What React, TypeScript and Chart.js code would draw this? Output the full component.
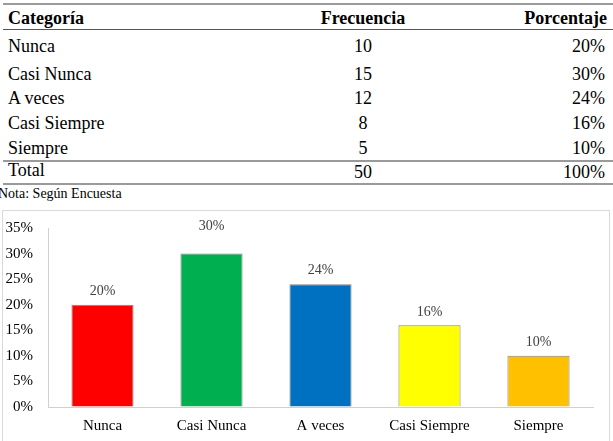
import React, { useEffect, useRef } from "react";
import { Chart, registerables } from "chart.js";

Chart.register(...registerables);

const categories = ["Nunca", "Casi Nunca", "A veces", "Casi Siempre", "Siempre"];
const frequencies = [10, 15, 12, 8, 5];
const percentages = [20, 30, 24, 16, 10];
const totalFrequency = 50;
const totalPercentage = 100;
const barColors = ["#FF0000", "#00B050", "#0070C0", "#FFFF00", "#FFC000"];
const yTicks = [0, 5, 10, 15, 20, 25, 30, 35];

const SERIF = "'Liberation Serif', 'Times New Roman', Times, serif";

// Percentage labels drawn above each bar; `lift` is the gap between bar top and text baseline
const valueLabels = {
  id: "valueLabels",
  afterDatasetsDraw(chart: any, _args: any, opts: any) {
    const { ctx } = chart;
    const meta = chart.getDatasetMeta(0);
    const lift: number[] = opts.lift || [];
    ctx.save();
    ctx.font = `14px ${SERIF}`;
    ctx.fillStyle = "#404040";
    ctx.textAlign = "center";
    ctx.textBaseline = "alphabetic";
    meta.data.forEach((bar: any, i: number) => {
      const v = chart.data.datasets[0].data[i];
      ctx.fillText(`${v}%`, bar.x, bar.y - (lift[i] ?? 9));
    });
    ctx.restore();
  },
};

// text tops for the five body rows of the table
const rowTops = [37, 65, 89, 114, 139];

export default function App() {
  const canvasRef = useRef<HTMLCanvasElement | null>(null);

  useEffect(() => {
    document.body.style.margin = "0";
    if (!canvasRef.current) return;
    const chart = new Chart(canvasRef.current, {
      type: "bar",
      data: {
        labels: categories,
        datasets: [
          {
            data: percentages,
            backgroundColor: barColors,
            borderColor: "rgba(50,50,50,0.6)",
            borderWidth: 1,
            barPercentage: 0.57,
            categoryPercentage: 1,
          },
        ],
      },
      options: {
        animation: false,
        responsive: false,
        maintainAspectRatio: false,
        layout: { padding: { left: 0, right: 20, top: 17, bottom: 0 } },
        plugins: {
          legend: { display: false },
          tooltip: { enabled: false },
          valueLabels: { lift: [10, 24, 10, 9, 10] },
        } as any,
        scales: {
          x: {
            grid: { display: false, drawTicks: false },
            border: { display: true, color: "#d0d0d0", width: 1 },
            ticks: {
              color: "#000000",
              font: { family: SERIF, size: 15 },
              padding: 10,
            },
            afterFit(scale: any) {
              scale.height = 34;
            },
          },
          y: {
            min: 0,
            max: 35,
            // invisible tick marks keep the labels clear of the axis line
            grid: {
              display: true,
              drawOnChartArea: false,
              drawTicks: true,
              tickLength: 14,
              tickColor: "rgba(0,0,0,0)",
            },
            border: { display: true, color: "#d0d0d0", width: 1 },
            afterBuildTicks(scale: any) {
              scale.ticks = yTicks.map((v) => ({ value: v }));
            },
            ticks: {
              color: "#000000",
              font: { family: SERIF, size: 15 },
              padding: 1,
              callback: (v: any) => `${v}%`,
            },
            afterFit(scale: any) {
              scale.width = 48;
            },
          },
        },
      },
      plugins: [valueLabels],
    });
    return () => chart.destroy();
  }, []);

  const cell: React.CSSProperties = {
    position: "absolute",
    fontFamily: SERIF,
    fontSize: 18,
    lineHeight: "18px",
    color: "#000",
    whiteSpace: "nowrap",
  };
  const line = (top: number, color: string, h: number): React.CSSProperties => ({
    position: "absolute",
    left: 3,
    right: 0,
    top,
    height: h,
    background: color,
  });

  return (
    <div style={{ position: "relative", width: 613, height: 441, background: "#fff", overflow: "hidden" }}>
      <div style={line(3, "#9a9a9a", 2)} />
      <div style={{ ...cell, left: 8, top: 9, fontWeight: "bold" }}>Categoría</div>
      <div style={{ ...cell, left: 263, width: 200, top: 9, textAlign: "center", fontWeight: "bold" }}>Frecuencia</div>
      <div style={{ ...cell, right: 6, top: 9, fontWeight: "bold" }}>Porcentaje</div>
      <div style={line(29, "#555555", 1)} />
      {categories.map((c, i) => (
        <React.Fragment key={c}>
          <div style={{ ...cell, left: 8, top: rowTops[i] }}>{c}</div>
          <div style={{ ...cell, left: 263, width: 200, top: rowTops[i], textAlign: "center" }}>{frequencies[i]}</div>
          <div style={{ ...cell, right: 8, top: rowTops[i] }}>{percentages[i]}%</div>
        </React.Fragment>
      ))}
      <div style={line(160, "#9a9a9a", 2)} />
      <div style={{ ...cell, left: 8, top: 161 }}>Total</div>
      <div style={{ ...cell, left: 263, width: 200, top: 163, textAlign: "center" }}>{totalFrequency}</div>
      <div style={{ ...cell, right: 8, top: 163 }}>{totalPercentage}%</div>
      <div style={line(183, "#9a9a9a", 2)} />
      <div style={{ ...cell, left: -2, top: 186, fontSize: 14, lineHeight: "16px" }}>Nota: Según Encuesta</div>
      <div
        style={{
          position: "absolute",
          left: 2,
          top: 210,
          width: 606,
          height: 240,
          border: "1px solid #d9d9d9",
        }}
      />
      <canvas
        ref={canvasRef}
        width={613}
        height={230}
        style={{ position: "absolute", left: 0, top: 211, width: 613, height: 230 }}
      />
    </div>
  );
}
